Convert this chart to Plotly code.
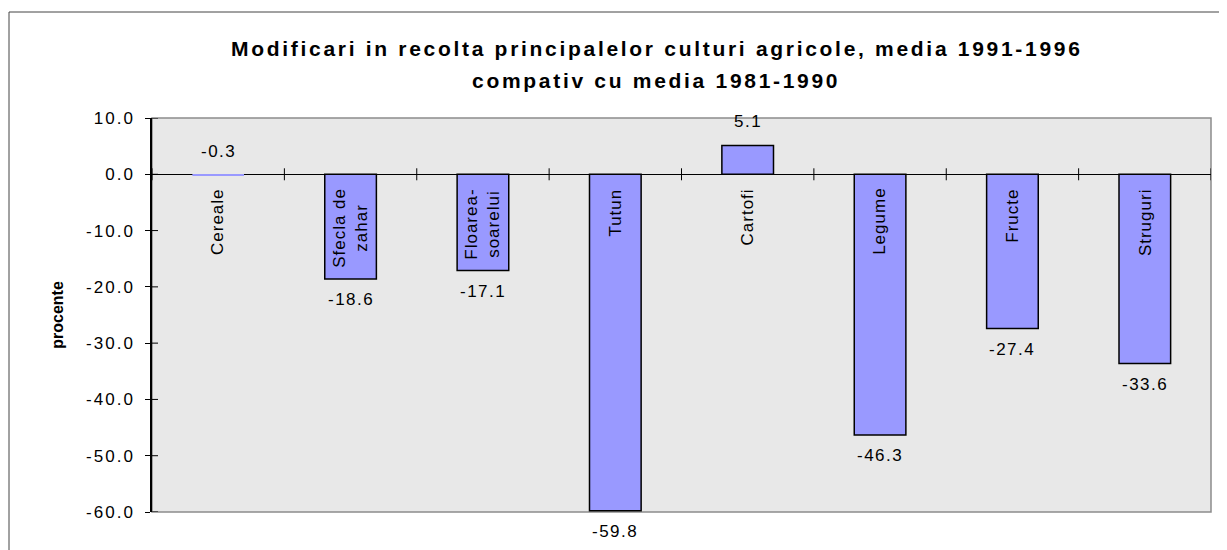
import plotly.graph_objects as go

categories = ["Cereale", "Sfecla de<br>zahar", "Floarea-<br>soarelui", "Tutun",
              "Cartofi", "Legume", "Fructe", "Struguri"]
values = [-0.3, -18.6, -17.1, -59.8, 5.1, -46.3, -27.4, -33.6]
y_ticks = [10, 0, -10, -20, -30, -40, -50, -60]
title_line1 = "Modificari in recolta principalelor culturi agricole, media 1991-1996"
title_line2 = "compativ cu media 1981-1990"
y_title = "procente"

OFF = 8  # default page body margin
W, H = 1227 - OFF, 550 - OFF
L, R, T, B = 152 - OFF, 1211 - OFF, 118 - OFF, 512 - OFF
FONT = "Liberation Sans, Arial, sans-serif"


def px_x(x):
    return (x - OFF - L) / (R - L)


def px_y(y):
    return (B - (y - OFF)) / (B - T)


def spaced(text, sp):
    return f'<span style="letter-spacing:{sp}px">{text}</span>'


x_idx = list(range(len(categories)))

fig = go.Figure()
fig.add_trace(go.Bar(
    x=x_idx, y=values,
    marker=dict(color="#9999FF",
                line=dict(color="black", width=[1.5 if abs(v) >= 1 else 0 for v in values])),
    hoverinfo="skip",
))

annotations = []
# title
annotations.append(dict(text=spaced(title_line1, 2.7), x=px_x(657), y=px_y(48),
                        xref="paper", yref="paper", showarrow=False,
                        xanchor="center", yanchor="middle",
                        font=dict(family=FONT, size=21, color="black", weight="bold")))
annotations.append(dict(text=spaced(title_line2, 2.7), x=px_x(656), y=px_y(80),
                        xref="paper", yref="paper", showarrow=False,
                        xanchor="center", yanchor="middle",
                        font=dict(family=FONT, size=21, color="black", weight="bold")))
# category labels (rotated, below zero line)
for i, c in enumerate(categories):
    annotations.append(dict(text=spaced(c, 1), x=i, y=0, xref="x", yref="y",
                            showarrow=False, textangle=-90, xanchor="center",
                            yanchor="top", yshift=-12, align="center",
                            font=dict(family=FONT, size=17, color="black")))
# data labels
for i, v in enumerate(values):
    above = v >= 0 or abs(v) < 1
    annotations.append(dict(text=spaced(f"{v:.1f}", 1.5), x=i, y=v, xref="x", yref="y",
                            showarrow=False, xanchor="center", yanchor="middle",
                            yshift=24 if above else -21,
                            font=dict(family=FONT, size=17, color="black")))

shapes = []
# plot area border (gray)
shapes.append(dict(type="rect", xref="paper", yref="paper", x0=0, x1=1, y0=0, y1=1,
                   line=dict(color="#8c8c8c", width=1.5), layer="below"))
# outer chart border
shapes.append(dict(type="rect", xref="paper", yref="paper",
                   x0=px_x(9), x1=px_x(1240), y0=px_y(560), y1=px_y(12),
                   line=dict(color="#444444", width=1)))
# category boundary ticks crossing the zero line
for i in range(len(categories) + 1):
    shapes.append(dict(type="line", xref="x", yref="y", x0=i - 0.5, x1=i - 0.5,
                       ysizemode="pixel", yanchor=0, y0=-6, y1=6,
                       line=dict(color="black", width=1)))
# inner halves of y ticks
for t in y_ticks:
    shapes.append(dict(type="line", xref="paper", yref="y", xsizemode="pixel",
                       xanchor=0, x0=0, x1=6, y0=t, y1=t,
                       line=dict(color="black", width=1)))

fig.update_layout(
    width=W, height=H,
    margin=dict(l=L, r=W - R, t=T, b=H - B, pad=0),
    paper_bgcolor="white", plot_bgcolor="#E8E8E8",
    showlegend=False, bargap=0.61,
    annotations=annotations, shapes=shapes,
    font=dict(family=FONT, color="black"),
)
fig.update_xaxes(range=[-0.5, len(categories) - 0.5], showticklabels=False,
                 showgrid=False, zeroline=False, showline=False, ticks="")
fig.update_yaxes(range=[-60, 10], tickvals=y_ticks,
                 ticktext=[spaced(f"{t:.1f}", 2) for t in y_ticks],
                 showgrid=False, zeroline=True, zerolinecolor="black", zerolinewidth=1,
                 showline=True, linecolor="black", linewidth=1.5,
                 ticks="outside", ticklen=5, tickcolor="black",
                 ticklabelstandoff=7,
                 tickfont=dict(family=FONT, size=17, color="black"),
                 title=dict(text=y_title, standoff=18,
                            font=dict(family=FONT, size=16, color="black", weight="bold")))

fig.write_html("out.html")
